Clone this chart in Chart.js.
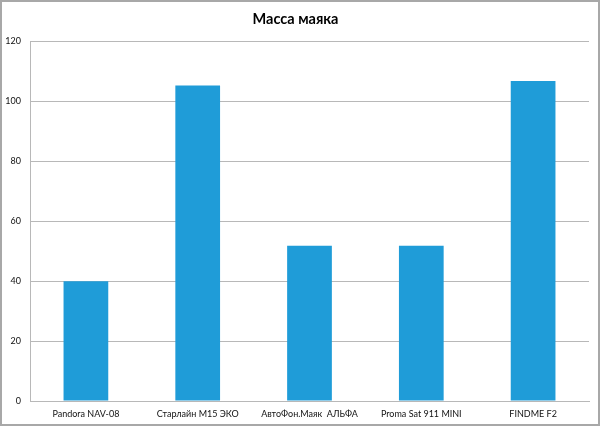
<!DOCTYPE html>
<html lang="ru">
<head>
  <meta charset="UTF-8">
  <title>Масса маяка</title>
  <style>
    html, body { margin: 0; padding: 0; background: #fff; }
    #moldura {
      width: 600px;
      height: 426px;
      box-sizing: border-box;
      border: 2px solid #a8a8a8;
      background: #fff;
    }
    #grafico { display: block; }
  </style>
</head>
<body>
  <div id="moldura">
    <canvas id="grafico" width="596" height="422"></canvas>
  </div>

  <script src="https://cdn.jsdelivr.net/npm/chart.js"></script>
  <script>
    // dados
    const categorias = ['Pandora NAV-08', 'Старлайн M15 ЭКО', 'АвтоФон.Маяк  АЛЬФА', 'Proma Sat 911 MINI', 'FINDME F2'];
    const massas = [40, 105.3, 51.8, 51.8, 106.8];
    const ticksY = [0, 20, 40, 60, 80, 100, 120];

    const fonte = "Lato, 'Open Sans', 'DejaVu Sans', sans-serif";
    const cinzaGrade = '#b8b8b8';

    const ctx = document.getElementById('grafico').getContext('2d');
    new Chart(ctx, {
      type: 'bar',
      data: {
        labels: categorias,
        datasets: [{
          label: 'Масса маяка',
          data: massas,
          backgroundColor: '#1f9cd8',
          borderWidth: 0,
          barPercentage: 0.4,
          categoryPercentage: 1
        }]
      },
      options: {
        responsive: false,
        animation: false,
        layout: { padding: { left: 0, right: 9, top: 0, bottom: 0 } },
        plugins: {
          legend: { display: false },
          tooltip: { enabled: false },
          title: {
            display: true,
            text: 'Масса маяка',
            color: '#000',
            font: { family: fonte, size: 14.5, weight: 'bold' },
            padding: { top: 9, bottom: 13 }
          }
        },
        scales: {
          x: {
            offset: true,
            grid: { display: false, drawTicks: false },
            border: { display: true, color: cinzaGrade, width: 1 },
            ticks: {
              color: '#111',
              font: { family: fonte, size: 9 },
              padding: 8,
              maxRotation: 0,
              autoSkip: false
            },
            afterFit: (escala) => { escala.height = 23; }
          },
          y: {
            min: 0,
            max: 120,
            afterBuildTicks: (escala) => { escala.ticks = ticksY.map(v => ({ value: v })); },
            grid: { color: cinzaGrade, lineWidth: 1, drawTicks: false },
            border: { display: true, color: cinzaGrade, width: 1 },
            ticks: {
              color: '#111',
              font: { family: fonte, size: 9 },
              padding: 9
            },
            afterFit: (escala) => { escala.width = 28; }
          }
        }
      }
    });
  </script>
</body>
</html>
